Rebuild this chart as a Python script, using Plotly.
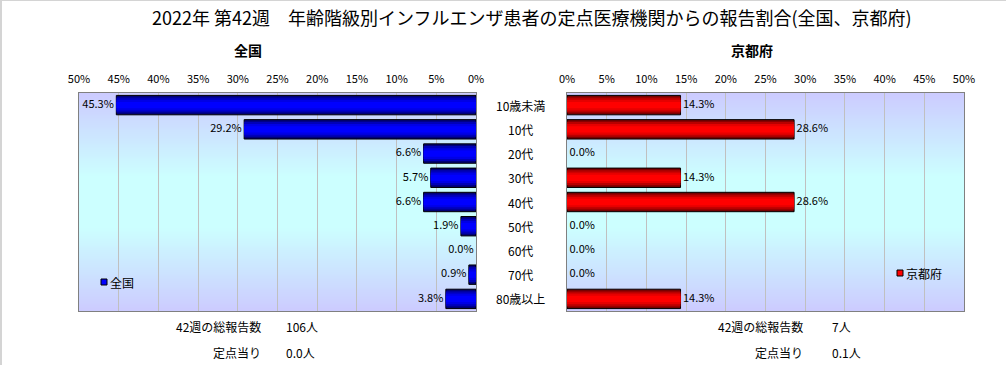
import base64
import struct
import zlib
import plotly.graph_objects as go

# ---------------- data ----------------
categories = ["10歳未満", "10代", "20代", "30代", "40代", "50代", "60代", "70代", "80歳以上"]
national = [45.3, 29.2, 6.6, 5.7, 6.6, 1.9, 0.0, 0.9, 3.8]
kyoto = [14.3, 28.6, 0.0, 14.3, 28.6, 0.0, 0.0, 0.0, 14.3]
tick_values = [0, 5, 10, 15, 20, 25, 30, 35, 40, 45, 50]
tick_labels = [f"{v}%" for v in tick_values]
chart_title = "2022年 第42週　年齢階級別インフルエンザ患者の定点医療機関からの報告割合(全国、京都府)"
panel_names = ["全国", "京都府"]
total_reports = ["106人", "7人"]
per_site = ["0.0人", "0.1人"]
week_label = "42週の総報告数"
per_site_label = "定点当り"

FONT = "Noto Sans CJK JP"
W, H = 1006, 365


def px_x(p):
    return p / W


def px_y(p):
    return 1 - p / H


# ---------- gradient background image (pure python png) ----------
def gradient_png(stops, n=120):
    rows = b""
    for i in range(n):
        t = i / (n - 1)
        for j in range(len(stops) - 1):
            t0, c0 = stops[j]
            t1, c1 = stops[j + 1]
            if t0 <= t <= t1:
                f = 0 if t1 == t0 else (t - t0) / (t1 - t0)
                c = [round(c0[k] + (c1[k] - c0[k]) * f) for k in range(3)]
                break
        rows += b"\x00" + bytes(c)
    def chunk(tag, data):
        return struct.pack(">I", len(data)) + tag + data + struct.pack(">I", zlib.crc32(tag + data) & 0xffffffff)
    png = b"\x89PNG\r\n\x1a\n"
    png += chunk(b"IHDR", struct.pack(">IIBBBBB", 1, n, 8, 2, 0, 0, 0))
    png += chunk(b"IDAT", zlib.compress(rows))
    png += chunk(b"IEND", b"")
    return "data:image/png;base64," + base64.b64encode(png).decode()


bg_src = gradient_png([
    (0.0, (204, 204, 255)),
    (0.38, (204, 255, 255)),
    (0.62, (204, 255, 255)),
    (1.0, (204, 204, 255)),
])

# geometry (pixels)
L_X0, L_X1 = 79, 476
R_X0, R_X1 = 567, 964
P_TOP, P_BOT = 93, 311

fig = go.Figure()

shades_blue = [(0.80, "#000078"), (0.62, "#0000b8"), (0.44, "#0000e6"), (0.26, "#0000ff")]
shades_red = [(0.80, "#780000"), (0.62, "#b80000"), (0.44, "#e60000"), (0.26, "#ff0000")]

for values, shades, xa, ya in [(national, shades_blue, "x", "y"), (kyoto, shades_red, "x2", "y2")]:
    outline = [1 if v > 0 else 0 for v in values]
    for i, (w, c) in enumerate(shades):
        fig.add_trace(go.Bar(
            y=categories, x=values, orientation="h", width=w,
            marker=dict(color=c, line=dict(color="black", width=outline if i == 0 else 0)),
            xaxis=xa, yaxis=ya, showlegend=False, hoverinfo="skip" if i else None,
        ))

fig.add_trace(go.Scatter(
    y=categories, x=national, mode="text",
    text=[f"{v:.1f}% " for v in national], textposition="middle left",
    textfont=dict(family=FONT, size=11, color="black"),
    xaxis="x", yaxis="y", showlegend=False, cliponaxis=False,
))
fig.add_trace(go.Scatter(
    y=categories, x=kyoto, mode="text",
    text=[f" {v:.1f}%" for v in kyoto], textposition="middle right",
    textfont=dict(family=FONT, size=11, color="black"),
    xaxis="x2", yaxis="y2", showlegend=False, cliponaxis=False,
))

common_x = dict(
    tickvals=tick_values, ticktext=tick_labels, side="top",
    showgrid=True, gridcolor="#c0c0c0", gridwidth=1, zeroline=False,
    showline=True, linecolor="#808080", linewidth=1, mirror=True,
    ticks="outside", ticklen=5, tickcolor="rgba(0,0,0,0)", automargin=False,
    tickfont=dict(family=FONT, size=11, color="black"), fixedrange=True,
)
ydom = [px_y(P_BOT), px_y(P_TOP)]
common_y = dict(
    domain=ydom, autorange="reversed", showticklabels=False, showgrid=False,
    zeroline=False, showline=True, linecolor="#808080", linewidth=1, mirror=True,
    ticks="", categoryorder="array", categoryarray=categories, automargin=False,
    fixedrange=True,
)

fig.update_layout(
    width=W, height=H,
    margin=dict(l=0, r=0, t=0, b=0, pad=0, autoexpand=False),
    paper_bgcolor="white", plot_bgcolor="rgba(0,0,0,0)",
    barmode="overlay", bargap=0.2,
    font=dict(family=FONT, size=11, color="black"),
    xaxis=dict(domain=[px_x(L_X0), px_x(L_X1)], range=[50, 0], anchor="y", **common_x),
    xaxis2=dict(domain=[px_x(R_X0), px_x(R_X1)], range=[0, 50], anchor="y2", **common_x),
    yaxis=dict(anchor="x", **common_y),
    yaxis2=dict(anchor="x2", **common_y),
    showlegend=False,
)

for x0, x1 in [(L_X0, L_X1), (R_X0, R_X1)]:
    fig.add_layout_image(dict(
        source=bg_src, xref="paper", yref="paper",
        x=px_x(x0), y=px_y(P_TOP), sizex=px_x(x1) - px_x(x0), sizey=(P_BOT - P_TOP) / H,
        xanchor="left", yanchor="top", sizing="stretch", layer="below",
    ))

ann = []
ann.append(dict(text=chart_title, x=px_x(532), y=px_y(17), xref="paper", yref="paper",
                showarrow=False, font=dict(size=18, family=FONT), xanchor="center", yanchor="middle"))
ann.append(dict(text=f"<b>{panel_names[0]}</b>", x=px_x(248), y=px_y(50), xref="paper", yref="paper",
                showarrow=False, font=dict(size=14, family=FONT), xanchor="center", yanchor="middle"))
ann.append(dict(text=f"<b>{panel_names[1]}</b>", x=px_x(752), y=px_y(50), xref="paper", yref="paper",
                showarrow=False, font=dict(size=14, family=FONT), xanchor="center", yanchor="middle"))
for c in categories:
    ann.append(dict(text=c, x=px_x(520), y=c, xref="paper", yref="y", showarrow=False,
                    font=dict(size=12, family=FONT), xanchor="center", yanchor="middle"))
# bottom summary texts
for lx, vx, tot, ps in [(263, 284, total_reports[0], per_site[0]), (805, 830, total_reports[1], per_site[1])]:
    ann.append(dict(text=f"{week_label}", x=px_x(lx), y=px_y(326), xref="paper", yref="paper",
                    showarrow=False, font=dict(size=12, family=FONT), xanchor="right", yanchor="middle"))
    ann.append(dict(text=tot, x=px_x(vx), y=px_y(326), xref="paper", yref="paper",
                    showarrow=False, font=dict(size=12, family=FONT), xanchor="left", yanchor="middle"))
    ann.append(dict(text=per_site_label, x=px_x(lx), y=px_y(352), xref="paper", yref="paper",
                    showarrow=False, font=dict(size=12, family=FONT), xanchor="right", yanchor="middle"))
    ann.append(dict(text=ps, x=px_x(vx), y=px_y(352), xref="paper", yref="paper",
                    showarrow=False, font=dict(size=12, family=FONT), xanchor="left", yanchor="middle"))
# legend labels
ann.append(dict(text=panel_names[0], x=px_x(108), y=px_y(282), xref="paper", yref="paper",
                showarrow=False, font=dict(size=12, family=FONT), xanchor="left", yanchor="middle"))
ann.append(dict(text=panel_names[1], x=px_x(904), y=px_y(273), xref="paper", yref="paper",
                showarrow=False, font=dict(size=12, family=FONT), xanchor="left", yanchor="middle"))
fig.update_layout(annotations=ann)

shapes = [
    dict(type="rect", xref="paper", yref="paper", x0=px_x(101), x1=px_x(107), y0=px_y(285), y1=px_y(279),
         fillcolor="#0000ff", line=dict(color="black", width=1)),
    dict(type="rect", xref="paper", yref="paper", x0=px_x(897), x1=px_x(903), y0=px_y(276), y1=px_y(270),
         fillcolor="#ff0000", line=dict(color="black", width=1)),
    # outer frame (only top and left edges visible in reference)
    dict(type="line", xref="paper", yref="paper", x0=0, x1=1, y0=px_y(0.5), y1=px_y(0.5),
         line=dict(color="#d4d4d4", width=1)),
    dict(type="line", xref="paper", yref="paper", x0=px_x(1), x1=px_x(1), y0=0, y1=1,
         line=dict(color="#d4d4d4", width=2)),
]
fig.update_layout(shapes=shapes)

fig.write_html(
    "out.html",
    config={"displayModeBar": False, "responsive": False},
    post_script="document.body.style.margin='0';document.body.style.overflow='hidden';",
)
